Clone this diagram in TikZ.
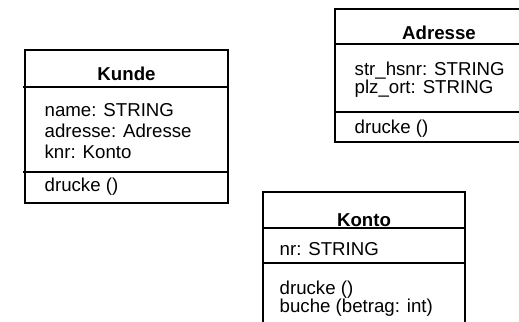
\documentclass[tikz,border=0pt]{standalone}
\usepackage{fontspec}
\setmainfont{Liberation Sans}
\usepackage{tikz}

\tikzset{
  classtitle/.style={anchor=base,inner sep=0.75pt,font=\fontsize{14}{16}\selectfont\bfseries},
  classtext/.style={anchor=base west,inner sep=0.75pt,font=\fontsize{14}{16}\selectfont},
}

\begin{document}
\begin{tikzpicture}[x=0.75pt,y=0.75pt,yscale=-1,xscale=1,line width=1pt]
\useasboundingbox (0,0) rectangle (519,322);
\clip (0,0) rectangle (519,322);

%Shape: Rectangle [Kunde]
\draw   (25,50) rectangle (228,203) ;
\draw   (23,87) -- (228,87) ;
\draw   (23,172) -- (228,172) ;
%Shape: Rectangle [Adresse]
\draw   (335,9) rectangle (543,142) ;
\draw   (335,44) -- (543,44) ;
\draw   (335,112) -- (543,112) ;
%Shape: Rectangle [Konto]
\draw   (263,192) rectangle (465,340) ;
\draw   (263,228) -- (465,228) ;
\draw   (263,263) -- (465,263) ;

% Text Node
\node [classtitle] (kunde) at (126.5,80) {Kunde};
\node [classtext] (kname) at (43,116) {name: STRING};
\node [classtext] (kadr) at (43,137) {adresse: Adresse};
\node [classtext] (knr) at (43,158) {knr: Konto};
\node [classtext] (kdruck) at (43,191) {drucke ()};
% Text Node
\node [classtitle] (adresse) at (439,39) {Adresse};
\node [classtext] (astr) at (353,75) {str\_hsnr: STRING};
\node [classtext] (aplz) at (353,93) {plz\_ort: STRING};
\node [classtext] (adruck) at (353,133) {drucke ()};
% Text Node
\node [classtitle] (konto) at (364,226) {Konto};
\node [classtext] (nr) at (278,255) {nr: STRING};
\node [classtext] (kodruck) at (278,294) {drucke ()};
\node [classtext] (buche) at (278,312) {buche (betrag: int)};

\end{tikzpicture}
\end{document}
